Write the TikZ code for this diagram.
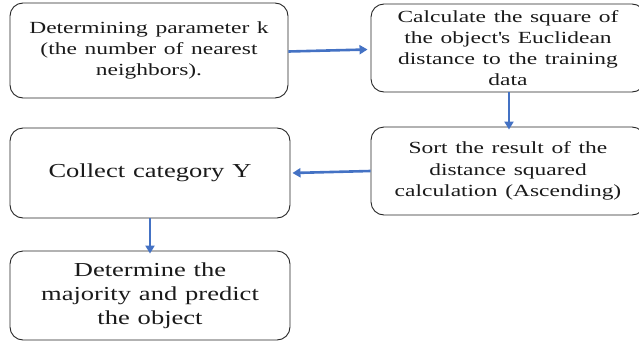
\documentclass[tikz,border=0pt]{standalone}
\usepackage{fontspec}
\setmainfont{Liberation Serif}
\newfontfamily\smallserif{Liberation Serif}[FakeStretch=1.38]
\newfontfamily\bigserif{Liberation Serif}[FakeStretch=1.34]
\usetikzlibrary{arrows.meta}
\definecolor{arrblue}{HTML}{4472C4}
\definecolor{txt}{HTML}{1A1A1A}
\newcommand\smallbox{\smallserif\fontsize{17}{21.2}\selectfont\spaceskip=0.45em\relax}
\newcommand\bigbox{\bigserif\fontsize{19.8}{24}\selectfont\spaceskip=0.4em\relax}
\tikzset{
  box/.style={draw=black!85, line width=0.9pt, rounded corners=13pt, align=center, inner sep=0pt, text=txt},
  flow/.style={draw=arrblue, line width=2.6pt, -{Triangle[length=8pt,width=9pt]}}
}
\begin{document}
\begin{tikzpicture}[x=1pt,y=-1pt]
\useasboundingbox (0,0) rectangle (639,343);
\clip (0,0) rectangle (639,343);
\node[box, minimum width=278pt, minimum height=95pt, font=\smallbox] (b1) at (149,50.5) {Determining parameter k\\(the number of nearest\\neighbors).};
\node[box, minimum width=274pt, minimum height=88pt, font=\smallbox] (b2) at (508,48) {Calculate the square of\\the object\textquotesingle s Euclidean\\distance to the training\\data};
\node[box, minimum width=274pt, minimum height=88pt, font=\smallbox] (b3) at (508,171) {Sort the result of the\\distance squared\\calculation (Ascending)};
\node[box, minimum width=280pt, minimum height=90pt, font=\bigbox] (b4) at (150,173) {Collect category Y};
\node[box, minimum width=280pt, minimum height=89pt, font=\bigbox] (b5) at (150,295.5) {Determine the\\majority and predict\\the object};
\coordinate (c2) at (509,0);
\draw[flow] ([yshift=-1pt]b1.east) -- ([xshift=-3pt,yshift=-1.5pt]b2.west);
\draw[flow] (b2.south -| c2) -- ([yshift=-3pt]b3.north -| c2);
\draw[flow] (b3.west) -- ([xshift=2pt]b4.east);
\draw[flow] (b4.south) -- ([yshift=-3pt]b5.north);
\end{tikzpicture}
\end{document}
